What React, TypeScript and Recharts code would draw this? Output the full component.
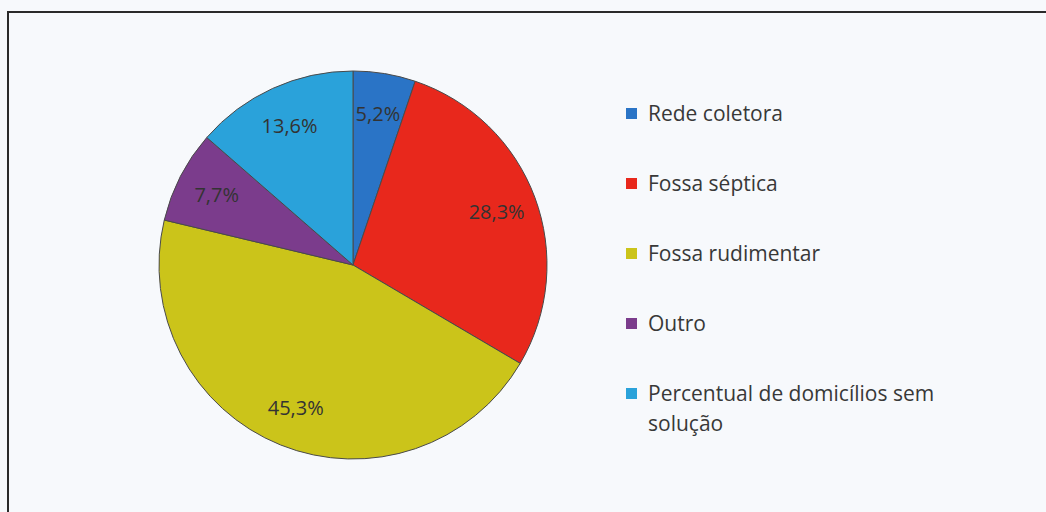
import React from "react";
import { PieChart, Pie, Cell, Legend } from "recharts";

const categories = [
  "Rede coletora",
  "Fossa séptica",
  "Fossa rudimentar",
  "Outro",
  "Percentual de domicílios sem solução",
];
const values = [5.2, 28.3, 45.3, 7.7, 13.6];
const colors = ["#2a74c6", "#e8281c", "#cbc41a", "#7b3c8c", "#2aa2da"];

const data = categories.map((name, i) => ({ name, value: values[i] }));

const FONT = "'Open Sans', Lato, sans-serif";
const RAD = Math.PI / 180;

const fmt = (v: number) => v.toFixed(1).replace(".", ",") + "%";

const renderLabel = (props: any) => {
  const { cx, cy, midAngle, outerRadius, value } = props;
  const r = outerRadius * 0.79;
  const x = cx + r * Math.cos(-midAngle * RAD);
  const y = cy + r * Math.sin(-midAngle * RAD);
  return (
    <text
      x={x}
      y={y}
      textAnchor="middle"
      dominantBaseline="central"
      fill="#333"
      fontFamily={FONT}
      fontSize={20}
    >
      {fmt(value)}
    </text>
  );
};

const LegendContent = () => {
  return (
    <div
      style={{
        fontFamily: FONT,
        fontSize: 21,
        color: "#383838",
        width: 340,
      }}
    >
      {categories.map((name, i) => (
        <div
          key={name}
          style={{
            display: "flex",
            alignItems: "flex-start",
            height: 70,
            lineHeight: "30px",
          }}
        >
          <span
            style={{
              display: "inline-block",
              width: 11,
              height: 11,
              background: colors[i],
              marginTop: 10,
              marginRight: 11,
              flex: "0 0 auto",
            }}
          />
          <span style={{ width: 310 }}>{name}</span>
        </div>
      ))}
    </div>
  );
};

export default function App() {
  return (
    <div
      style={{
        position: "absolute",
        left: 0,
        top: 0,
        width: 1046,
        height: 512,
        background: "#f7f9fc",
        overflow: "hidden",
      }}
    >
      <div
        style={{
          position: "absolute",
          left: 7,
          top: 11,
          width: 1100,
          height: 560,
          borderTop: "2px solid #2a2a2a",
          borderLeft: "2px solid #2a2a2a",
        }}
      />
      <div style={{ position: "absolute", left: 0, top: 0 }}>
        <PieChart
          width={1046}
          height={512}
          margin={{ top: 0, right: 0, bottom: 0, left: 0 }}
        >
          <Pie
            data={data}
            dataKey="value"
            nameKey="name"
            cx={353}
            cy={265}
            outerRadius={194}
            startAngle={90}
            endAngle={-270}
            stroke="#4a4a4a"
            strokeWidth={1}
            label={renderLabel}
            labelLine={false}
            isAnimationActive={false}
          >
            {data.map((d, i) => (
              <Cell key={d.name} fill={colors[i]} />
            ))}
          </Pie>
          <Legend
            layout="vertical"
            align="right"
            verticalAlign="top"
            content={<LegendContent />}
            wrapperStyle={{ position: "absolute", left: 626, top: 98, width: 360 }}
          />
        </PieChart>
      </div>
    </div>
  );
}
